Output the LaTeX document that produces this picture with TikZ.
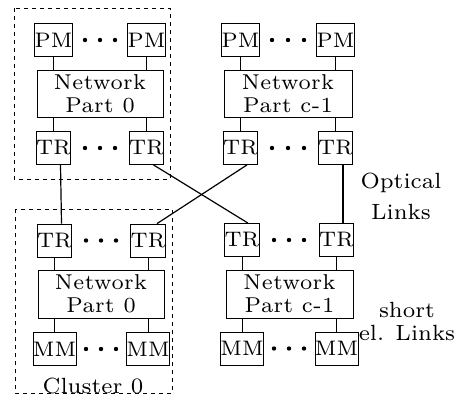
\documentclass[tikz,border=0pt]{standalone}
\usepackage{fontspec}
\newfontfamily\lmsev{lmroman7-regular.otf}
\begin{document}
\begin{tikzpicture}[x=1pt,y=-1pt,
  font=\lmsev\fontsize{21}{23}\selectfont,
  unit/.style={draw, line width=0.8pt, inner sep=0pt, minimum width=33pt, minimum height=33pt},
  netbox/.style={draw, line width=0.8pt, inner sep=0pt, minimum width=126pt, minimum height=47pt, align=center, font=\lmsev\fontsize{21.5}{23}\selectfont\addfontfeature{LetterSpace=2}},
  conn/.style={line width=0.7pt},
  link/.style={line width=1.2pt},
  cluster/.style={line width=0.8pt, dash pattern=on 4pt off 4pt},
  lbl/.style={align=center, inner sep=0pt, font=\lmsev\fontsize{22}{23}\selectfont}]
\useasboundingbox (0,0) rectangle (460,401);
% clusters
\draw[cluster] (14,8) rectangle (170,179);
\draw[cluster] (15,209) rectangle (172,393);
% top-left
\node[unit] (tlpa) at (53.5,40) {PM};
\node[unit] (tlpb) at (146.5,40) {PM};
\node[netbox] (tlnet) at (100,93.5) {Network\\Part 0};
\node[unit] (tlta) at (53.5,148) {TR};
\node[unit] (tltb) at (146.5,148) {TR};
% top-right
\node[unit] (trpa) at (240.5,40) {PM};
\node[unit] (trpb) at (335.5,40) {PM};
\node[netbox, minimum width=128pt] (trnet) at (288,93.5) {Network\\Part c-1};
\node[unit] (trta) at (240.5,148) {TR};
\node[unit] (trtb) at (335.5,148) {TR};
% bottom-left
\node[unit] (blta) at (54.5,240.5) {TR};
\node[unit] (bltb) at (148,240.5) {TR};
\node[netbox, minimum height=48pt] (blnet) at (101,294) {Network\\Part 0};
\node[unit] (blma) at (54.5,349) {MM};
\node[unit] (blmb) at (148,349) {MM};
% bottom-right
\node[unit] (brta) at (242,240) {TR};
\node[unit] (brtb) at (336.5,240) {TR};
\node[netbox, minimum width=127pt, minimum height=48pt] (brnet) at (289.5,294) {Network\\Part c-1};
\node[unit] (brma) at (242,348.5) {MM};
\node[unit] (brmb) at (336.5,348.5) {MM};
% dots
\foreach \x/\y in {85/40,100/40,115/40, 85/148,100/148,115/148,
                   272/40,288/40,304/40, 272/148,288/148,304/148,
                   86/240.5,101/240.5,116/240.5, 86/349,101/349,116/349,
                   274/240,289/240,304/240, 274/348.5,289/348.5,304/348.5}
  \fill (\x,\y) circle (2.2pt);
% short connectors
\draw[conn] (tlpa) -- (tlpa |- tlnet.north);
\draw[conn] (tlpb) -- (tlpb |- tlnet.north);
\draw[conn] (tlta) -- (tlta |- tlnet.south);
\draw[conn] (tltb) -- (tltb |- tlnet.south);
\draw[conn] (trpa) -- (trpa |- trnet.north);
\draw[conn] (trpb) -- (trpb |- trnet.north);
\draw[conn] (trta) -- (trta |- trnet.south);
\draw[conn] (trtb) -- (trtb |- trnet.south);
\draw[conn] (blta) -- (blta |- blnet.north);
\draw[conn] (bltb) -- (bltb |- blnet.north);
\draw[conn] (blma) -- (blma |- blnet.south);
\draw[conn] (blmb) -- (blmb |- blnet.south);
\draw[conn] (brta) -- (brta |- brnet.north);
\draw[conn] (brtb) -- (brtb |- brnet.north);
\draw[conn] (brma) -- (brma |- brnet.south);
\draw[conn] (brmb) -- (brmb |- brnet.south);
% optical links
\draw[link] ([xshift=7pt]tlta.south) -- ([xshift=7pt]blta.north);
\draw[link] ([xshift=7pt]tltb.south) -- ([xshift=6pt]brta.north);
\draw[link] ([xshift=6.5pt]trta.south) -- ([xshift=9pt]bltb.north);
\draw[link] ([xshift=7.5pt]trtb.south) -- ([xshift=6.5pt]brtb.north);
% labels
\node[lbl] (optical) at (401,196) {Optical\\[8pt]Links};
\node[lbl] (short) at (407,321) {short\\el. Links};
\node[lbl, anchor=base] (clus) at (93,393) {Cluster 0};
\end{tikzpicture}
\end{document}
